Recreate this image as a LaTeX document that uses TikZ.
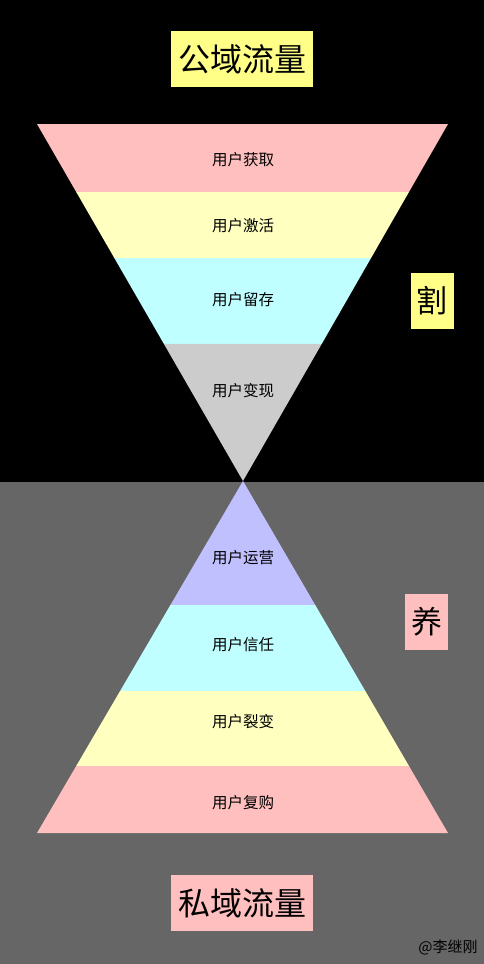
\documentclass[tikz,border=0pt]{standalone}
\usepackage{fontspec}
\setmainfont{Noto Sans CJK SC}
\usetikzlibrary{calc}

\definecolor{bandpink}{HTML}{FFBFBF}
\definecolor{bandyellow}{HTML}{FFFFC0}
\definecolor{bandcyan}{HTML}{C0FFFF}
\definecolor{bandgrey}{HTML}{CCCCCC}
\definecolor{bandpurple}{HTML}{C0C0FF}
\definecolor{tagyellow}{HTML}{FFFF88}
\definecolor{floorgrey}{HTML}{666666}

\begin{document}
\begin{tikzpicture}[x=1pt,y=-1pt]
  \tikzstyle{every node}=[text=black,inner sep=0pt]
  \tikzstyle{band label}=[font=\fontsize{15.5}{18}\selectfont]
  \tikzstyle{title box}=[minimum width=142pt,minimum height=56pt,
                         font=\fontsize{32}{36}\selectfont]
  \tikzstyle{side box}=[minimum width=43pt,minimum height=56pt,
                        font=\fontsize{31}{36}\selectfont]

  \useasboundingbox (0,0) rectangle (484,964);
  \fill[black]      (0,0)   rectangle (484,482);
  \fill[floorgrey]  (0,482) rectangle (484,964);

  \coordinate (tl)  at (37,124);
  \coordinate (tr)  at (448,124);
  \coordinate (mid) at (243,481);
  \coordinate (bl)  at (37,833);
  \coordinate (br)  at (448,833);

  % upper funnel
  \fill[bandpink]   (tl) -- (tr) -- ($(tr)!0.1905!(mid)$) -- ($(tl)!0.1905!(mid)$) -- cycle;
  \fill[bandyellow] ($(tl)!0.1905!(mid)$) -- ($(tr)!0.1905!(mid)$)
                    -- ($(tr)!0.3754!(mid)$) -- ($(tl)!0.3754!(mid)$) -- cycle;
  \fill[bandcyan]   ($(tl)!0.3754!(mid)$) -- ($(tr)!0.3754!(mid)$)
                    -- ($(tr)!0.6162!(mid)$) -- ($(tl)!0.6162!(mid)$) -- cycle;
  \fill[bandgrey]   ($(tl)!0.6162!(mid)$) -- ($(tr)!0.6162!(mid)$) -- (mid) -- cycle;

  % lower funnel
  \fill[bandpurple] (mid) -- ($(mid)!0.3523!(br)$) -- ($(mid)!0.3523!(bl)$) -- cycle;
  \fill[bandcyan]   ($(mid)!0.3523!(bl)$) -- ($(mid)!0.3523!(br)$)
                    -- ($(mid)!0.5966!(br)$) -- ($(mid)!0.5966!(bl)$) -- cycle;
  \fill[bandyellow] ($(mid)!0.5966!(bl)$) -- ($(mid)!0.5966!(br)$)
                    -- ($(mid)!0.8097!(br)$) -- ($(mid)!0.8097!(bl)$) -- cycle;
  \fill[bandpink]   ($(mid)!0.8097!(bl)$) -- ($(mid)!0.8097!(br)$) -- (br) -- (bl) -- cycle;

  \node[band label] (acquire)  at (243,160) {用户获取};
  \node[band label] (activate) at (243,226) {用户激活};
  \node[band label] (retain)   at (243,300) {用户留存};
  \node[band label] (monetize) at (243,391) {用户变现};
  \node[band label] (operate)  at (243,558) {用户运营};
  \node[band label] (trust)    at (243,645) {用户信任};
  \node[band label] (fission)  at (243,722) {用户裂变};
  \node[band label] (rebuy)    at (243,803) {用户复购};

  \node[title box,fill=tagyellow] (public)  at (242,59)  {公域流量};
  \node[title box,fill=bandpink]  (private) at (242,903) {私域流量};
  \node[side box,fill=tagyellow]  (cut)     at (432,301) {割};
  \node[side box,fill=bandpink]   (raise)   at (426.5,622) {养};
  \node[font=\fontsize{15}{17}\selectfont] (sign) at (448,947) {@李继刚};
\end{tikzpicture}
\end{document}
